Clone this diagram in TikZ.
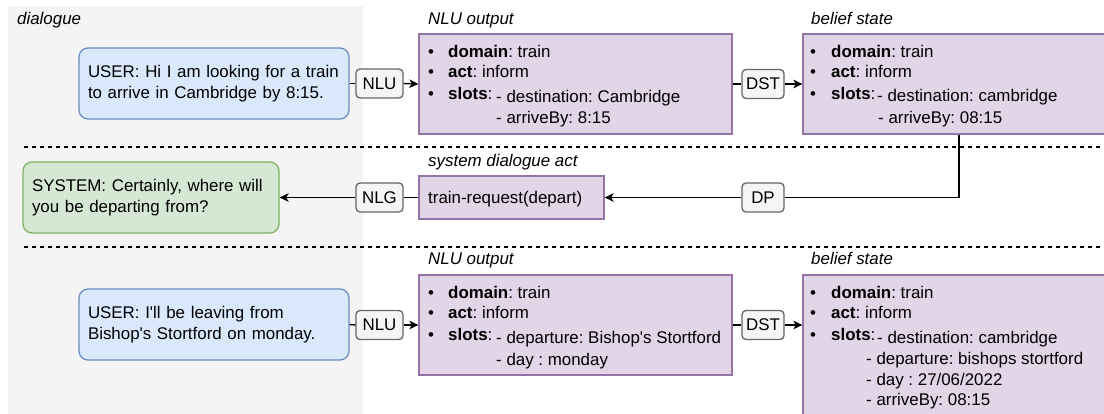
\documentclass[tikz,border=0pt]{standalone}
\usepackage{fontspec}
\setmainfont{Liberation Sans}
\usetikzlibrary{arrows.meta}
\frenchspacing
\definecolor{bluef}{HTML}{DAE8FC}
\definecolor{blued}{HTML}{6C8EBF}
\definecolor{greenf}{HTML}{D5E8D4}
\definecolor{greend}{HTML}{82B366}
\definecolor{purplef}{HTML}{E1D5E7}
\definecolor{purpled}{HTML}{9673A6}
\definecolor{labelf}{HTML}{F5F5F5}
\definecolor{labeld}{HTML}{666666}
\definecolor{bgray}{HTML}{F4F4F4}
\tikzset{
  txt/.style={inner sep=0pt, anchor=base west},
  ttl/.style={inner sep=0pt, anchor=base west, font=\fontsize{16.9}{20.3}\selectfont\itshape},
  bul/.style={inner sep=0pt, anchor=base},
  userbox/.style={draw=blued, fill=bluef, line width=1.3pt, rounded corners=9pt,
     minimum width=270pt, minimum height=71pt, text width=252pt, align=left, inner xsep=9pt},
  sysbox/.style={draw=greend, fill=greenf, line width=1.3pt, rounded corners=9pt,
     minimum width=256pt, minimum height=71pt, text width=238pt, align=left, inner xsep=9pt},
  listbox/.style={draw=purpled, fill=purplef, line width=1.3pt, inner sep=0pt},
  lbl/.style={draw=labeld, fill=labelf, line width=1.3pt, rounded corners=4pt,
     minimum height=29pt, minimum width=42pt, inner xsep=3pt, inner ysep=0pt},
  conn/.style={line width=1.4pt, draw=black},
  arr/.style={conn, -{Stealth[length=9pt,width=8.5pt,inset=2.5pt]}},
  sep/.style={line width=1.2pt, dash pattern=on 4pt off 4pt},
}
\begin{document}
\begin{tikzpicture}[x=1pt,y=-1pt,font=\fontsize{16.9}{20.3}\selectfont]
\useasboundingbox (0,0) rectangle (1104,414);
% background
\fill[bgray] (8,6) rectangle (363,420);
\node[ttl] (tdlg) at (17,25) {dialogue};
% separators
\coordinate (s1a) at (24,147); \coordinate (s1b) at (1104,147);
\coordinate (s2a) at (24,247); \coordinate (s2b) at (1104,247);
\draw[sep] (s1a) -- (s1b);
\draw[sep] (s2a) -- (s2b);

% ---------- row 1 ----------
\node[userbox] (u1) at (214,83.5) {USER: Hi I am looking for a train\\to arrive in Cambridge by 8:15.};
\node[lbl, minimum width=47pt] (nlu1) at (379.5,83.5) {NLU};
\node[listbox, minimum width=313pt, minimum height=100pt] (o1) at (575.5,84) {};
\node[ttl] (to1) at (428,25) {NLU output};
\node[bul] (o1b1) at (431,58) {•};
\node[bul] (o1b2) at (431,78) {•};
\node[bul] (o1b3) at (431,100) {•};
\node[txt] (o1t1) at (448,58) {\textbf{domain}: train};
\node[txt] (o1t2) at (448,78) {\textbf{act}: inform};
\node[txt] (o1t3) at (448,100) {\textbf{slots}:};
\node[txt] (o1s1) at (496,102.5) {- destination: Cambridge};
\node[txt] (o1s2) at (496,124) {- arriveBy: 8:15};
\node[lbl] (dst1) at (763,84) {DST};
\node[listbox, minimum width=312pt, minimum height=100pt] (b1) at (959,84) {};
\node[ttl] (tb1) at (811,25) {belief state};
\node[bul] (b1b1) at (813,58) {•};
\node[bul] (b1b2) at (813,78) {•};
\node[bul] (b1b3) at (813,100) {•};
\node[txt] (b1t1) at (831,58) {\textbf{domain}: train};
\node[txt] (b1t2) at (831,78) {\textbf{act}: inform};
\node[txt] (b1t3) at (831,100) {\textbf{slots}:};
\node[txt] (b1s1) at (877,102) {- destination: cambridge};
\node[txt] (b1s2) at (878,123.5) {- arriveBy: 08:15};

\draw[conn] (u1.east) -- (nlu1.west);
\draw[arr] (nlu1.east) -- (o1.west);
\draw[conn] (o1.east) -- (dst1.west);
\draw[arr] (dst1.east) -- (b1.west);

% ---------- row 2 ----------
\node[sysbox] (sys) at (151,197.5) {SYSTEM: Certainly, where will\\you be departing from?};
\node[lbl, minimum width=47pt] (nlg) at (379.5,197.5) {NLG};
\node[listbox, minimum width=185pt, minimum height=43pt] (sda) at (511.5,197.5) {};
\node[ttl] (tsda) at (428,166.5) {system dialogue act};
\node[txt] (sdat) at (428,203.5) {train-request(depart)};
\node[lbl] (dp) at (763,197.5) {DP};

\draw[conn] (b1.south) |- (dp.east);
\draw[arr] (dp.west) -- (sda.east);
\draw[conn] (sda.west) -- (nlg.east);
\draw[arr] (nlg.west) -- (sys.east);

% ---------- row 3 ----------
\node[userbox] (u2) at (214,324.5) {USER: I\textquotesingle ll be leaving from\\Bishop\textquotesingle s Stortford on monday.};
\node[lbl, minimum width=47pt] (nlu2) at (379.5,325) {NLU};
\node[listbox, minimum width=313pt, minimum height=100pt] (o2) at (575.5,325) {};
\node[ttl] (to2) at (428,265) {NLU output};
\node[bul] (o2b1) at (431,299) {•};
\node[bul] (o2b2) at (431,319) {•};
\node[bul] (o2b3) at (431,341) {•};
\node[txt] (o2t1) at (448,299) {\textbf{domain}: train};
\node[txt] (o2t2) at (448,319) {\textbf{act}: inform};
\node[txt] (o2t3) at (448,341) {\textbf{slots}:};
\node[txt] (o2s1) at (496,343.5) {- departure: Bishop\textquotesingle s Stortford};
\node[txt] (o2s2) at (496,365.5) {- day : monday};
\node[lbl] (dst2) at (763,325) {DST};
\node[listbox, minimum width=312pt, minimum height=160pt] (b2) at (959,355) {};
\node[ttl] (tb2) at (811,265) {belief state};
\node[bul] (b2b1) at (813,299) {•};
\node[bul] (b2b2) at (813,319) {•};
\node[bul] (b2b3) at (813,341) {•};
\node[txt] (b2t1) at (831,299) {\textbf{domain}: train};
\node[txt] (b2t2) at (831,319) {\textbf{act}: inform};
\node[txt] (b2t3) at (831,341) {\textbf{slots}:};
\node[txt] (b2s1) at (877,344) {- destination: cambridge};
\node[txt] (b2s2) at (866,364.5) {- departure: bishops stortford};
\node[txt] (b2s3) at (866,385) {- day : 27/06/2022};
\node[txt] (b2s4) at (866,405.5) {- arriveBy: 08:15};

\draw[conn] (u2.east) -- (nlu2.west);
\draw[arr] (nlu2.east) -- (o2.west);
\draw[conn] (o2.east) -- (dst2.west);
\draw[arr] (dst2.east) -- (dst2.east -| b2.west);
\end{tikzpicture}
\end{document}
